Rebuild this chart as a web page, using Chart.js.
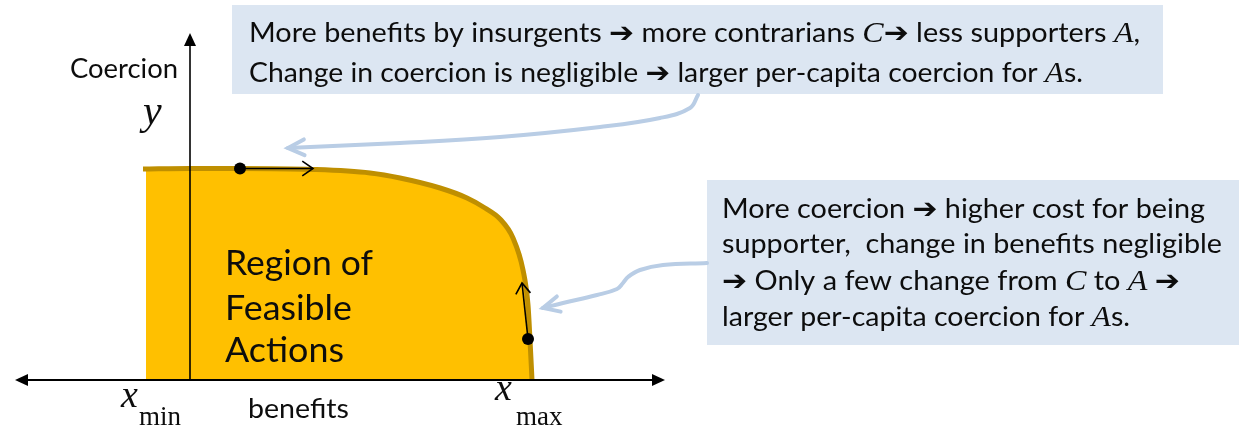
<!DOCTYPE html>
<html><head><meta charset="utf-8">
<style>html,body{margin:0;padding:0;background:#fff}canvas{display:block}</style>
<script src="https://cdn.jsdelivr.net/npm/chart.js@4/dist/chart.umd.min.js"></script>
</head><body>
<canvas id="c" width="1239" height="429"></canvas>
<script>
// ---- data (benefits x, coercion y; arbitrary units, origin at axes crossing) ----
const frontierX = [-9.4, 0, 10, 24.6, 36, 42, 50, 55.4, 59, 62, 64.6, 66.6, 67.6, 68, 68.4];
const frontierY = [42.2, 42.3, 42.3, 42.1, 41.4, 40.4, 38.4, 36.4, 34.4, 32.2, 28.4, 22, 15, 8, 0];
const regionX = [-8.8, 0, 10, 24.6, 36, 42, 50, 55.4, 59, 62, 64.6, 66.6, 67.6, 68, 68.4];
const regionY = [42.0, 42.1, 42.1, 41.9, 41.2, 40.2, 38.2, 36.2, 34.2, 32.0, 28.2, 21.8, 14.8, 7.8, 0.2];
const dotX = [10, 67.6];
const dotY = [42.3, 8.2];
const moveToX = [24.6, 66.4];
const moveToY = [42.3, 19.4];
const callout1X = [101.6, 100, 94, 82, 62, 42, 19.6];
const callout1Y = [57, 54.4, 52.4, 50.6, 48.6, 47.4, 46.4];
const callout2X = [103.4, 94.6, 90, 87.6, 86.6, 85.4, 81.4, 74.6, 70.6];
const callout2Y = [23.4, 23.0, 22.0, 20.6, 19.4, 18.2, 17.0, 15.4, 14.4];
const xAxisRange = [-35, 95];
const yAxisRange = [0, 69.4];

const XMIN = -38, XMAX = 209.8, YMIN = -9.8, YMAX = 76;

const pts = (xs, ys) => xs.map((x, i) => ({x, y: ys[i]}));

const S = "27px Lato, 'DejaVu Sans', sans-serif";
const SB = "34px Lato, 'DejaVu Sans', sans-serif";
const I = "italic 30px 'Liberation Serif', serif";
const R = "bold 28px 'DejaVu Sans', sans-serif";
const TXT = '#0d0d0d';

const boxes = [
  {x0: 8.4, x1: 194.6, y0: 75, y1: 57.2},
  {x0: 103.4, x1: 209.8, y0: 40, y1: 7}
];

const texts = [
  {x: -24, y: 60.4, w: 108, runs: [['Coercion', S]]},
  {x: -9.4, y: 51.2, runs: [['y', "italic 42px 'Liberation Serif', serif"]]},
  {x: 7, y: 21, w: 148, runs: [['Region of', SB]]},
  {x: 7, y: 12, w: 127, runs: [['Feasible', SB]]},
  {x: 7, y: 3.6, w: 119, runs: [['Actions', SB]]},
  {x: -13.8, y: -5.4, runs: [['x', "italic 38px 'Liberation Serif', serif"]]},
  {x: -10.2, y: -9, runs: [['min', "27px 'Liberation Serif', serif"]]},
  {x: 11.6, y: -7.6, w: 101, runs: [['benefits', S]]},
  {x: 61, y: -4, runs: [['x', "italic 38px 'Liberation Serif', serif"]]},
  {x: 65.2, y: -9, runs: [['max', "27px 'Liberation Serif', serif"]]},
  {x: 11.8, y: 67.6, w: 891, runs: [['More benefits by insurgents ', S], ['➔', R], [' more contrarians ', S], ['C', I], ['➔', R], [' less supporters ', S], ['A', I], [',', S]]},
  {x: 11.8, y: 59.6, w: 834, runs: [['Change in coercion is negligible ', S], ['➔', R], [' larger per-capita coercion for ', S], ['A', I], ['s.', S]]},
  {x: 106.4, y: 32.4, w: 483, runs: [['More coercion ', S], ['➔', R], [' higher cost for being', S]]},
  {x: 106.4, y: 25.4, w: 500, runs: [['supporter,  change in benefits negligible', S]]},
  {x: 106.4, y: 18, w: 458, runs: [['➔', R], [' Only a few change from ', S], ['C', I], [' to ', S], ['A', I], [' ', S], ['➔', R]]},
  {x: 106.4, y: 10.8, w: 408, runs: [['larger per-capita coercion for ', S], ['A', I], ['s.', S]]}
];

function drawRuns(ctx, t, px, py) {
  let total = 0;
  const ws = t.runs.map(([s, f]) => { ctx.font = f; const w = ctx.measureText(s).width; total += w; return w; });
  const sx = t.w ? t.w / total : 1;
  ctx.save();
  ctx.translate(px, py);
  ctx.scale(sx, 1);
  ctx.fillStyle = TXT;
  ctx.textBaseline = 'alphabetic';
  ctx.textAlign = 'left';
  let cx = 0;
  t.runs.forEach(([s, f], i) => { ctx.font = f; ctx.fillText(s, cx, 0); cx += ws[i]; });
  ctx.restore();
}

function openHead(ctx, tx, ty, fx, fy, len, ang) {
  const a = Math.atan2(ty - fy, tx - fx);
  ctx.beginPath();
  ctx.moveTo(tx - len * Math.cos(a - ang), ty - len * Math.sin(a - ang));
  ctx.lineTo(tx, ty);
  ctx.lineTo(tx - len * Math.cos(a + ang), ty - len * Math.sin(a + ang));
  ctx.stroke();
}
function filledHead(ctx, tx, ty, fx, fy, len, half) {
  const a = Math.atan2(ty - fy, tx - fx);
  const bx = tx - len * Math.cos(a), by = ty - len * Math.sin(a);
  ctx.beginPath();
  ctx.moveTo(tx, ty);
  ctx.lineTo(bx + half * Math.sin(a), by - half * Math.cos(a));
  ctx.lineTo(bx - half * Math.sin(a), by + half * Math.cos(a));
  ctx.closePath();
  ctx.fill();
}

const deco = {
  id: 'deco',
  beforeDatasetsDraw(chart) {
    const {ctx, scales: {x, y}} = chart;
    ctx.save();
    ctx.fillStyle = '#DCE6F2';
    boxes.forEach(b => {
      const X0 = x.getPixelForValue(b.x0), X1 = x.getPixelForValue(b.x1);
      const Y0 = y.getPixelForValue(b.y0), Y1 = y.getPixelForValue(b.y1);
      ctx.fillRect(X0, Y0, X1 - X0, Y1 - Y0);
    });
    ctx.restore();
  },
  afterDatasetsDraw(chart) {
    const {ctx, scales: {x, y}} = chart;
    ctx.save();
    ctx.strokeStyle = '#000'; ctx.fillStyle = '#000';
    const ax0 = x.getPixelForValue(xAxisRange[0]), ax1 = x.getPixelForValue(xAxisRange[1]);
    const ay = y.getPixelForValue(0);
    ctx.lineWidth = 2;
    ctx.beginPath(); ctx.moveTo(ax0 + 8, ay); ctx.lineTo(ax1 - 8, ay); ctx.stroke();
    filledHead(ctx, ax0, ay, ax1, ay, 13, 6);
    filledHead(ctx, ax1, ay, ax0, ay, 13, 6);
    const yx = x.getPixelForValue(0);
    const yt = y.getPixelForValue(yAxisRange[1]);
    ctx.lineWidth = 1.6;
    ctx.beginPath(); ctx.moveTo(yx, ay); ctx.lineTo(yx, yt + 8); ctx.stroke();
    filledHead(ctx, yx, yt, yx, ay, 13, 6);
    ctx.lineWidth = 1.6;
    dotX.forEach((dx, i) => {
      const fx = x.getPixelForValue(dx), fy = y.getPixelForValue(dotY[i]);
      const tx = x.getPixelForValue(moveToX[i]), ty = y.getPixelForValue(moveToY[i]);
      ctx.beginPath(); ctx.moveTo(fx, fy); ctx.lineTo(tx, ty); ctx.stroke();
      openHead(ctx, tx, ty, fx, fy, 13, 0.6);
    });
    ctx.strokeStyle = '#B9CDE5'; ctx.lineWidth = 4; ctx.lineCap = 'round';
    [[callout1X, callout1Y], [callout2X, callout2Y]].forEach(([cx, cy]) => {
      const n = cx.length;
      const tx = x.getPixelForValue(cx[n - 1]), ty = y.getPixelForValue(cy[n - 1]);
      const fx = x.getPixelForValue(cx[n - 2]), fy = y.getPixelForValue(cy[n - 2]);
      openHead(ctx, tx, ty, fx, fy, 18, 0.45);
    });
    texts.forEach(t => drawRuns(ctx, t, x.getPixelForValue(t.x), y.getPixelForValue(t.y)));
    ctx.restore();
  }
};

new Chart(document.getElementById('c'), {
  type: 'line',
  data: {
    datasets: [
      {data: pts(dotX, dotY), showLine: false, pointRadius: 6, pointBackgroundColor: '#000', pointBorderWidth: 0, order: 0},
      {data: pts(frontierX, frontierY), borderColor: '#BF8F00', borderWidth: 5, pointRadius: 0, cubicInterpolationMode: 'monotone', fill: false, order: 1},
      {data: pts(callout1X, callout1Y), borderColor: '#B9CDE5', borderWidth: 4, pointRadius: 0, tension: 0.4, fill: false, borderCapStyle: 'round', order: 2},
      {data: pts(callout2X, callout2Y), borderColor: '#B9CDE5', borderWidth: 4, pointRadius: 0, tension: 0.4, fill: false, borderCapStyle: 'round', order: 2},
      {data: pts(regionX, regionY), borderWidth: 0, borderColor: 'rgba(0,0,0,0)', backgroundColor: '#FFC000', pointRadius: 0, cubicInterpolationMode: 'monotone', fill: 'origin', order: 3}
    ]
  },
  options: {
    responsive: false,
    devicePixelRatio: 1,
    animation: false,
    layout: {padding: 0, autoPadding: false},
    scales: {
      x: {type: 'linear', min: XMIN, max: XMAX, display: false},
      y: {type: 'linear', min: YMIN, max: YMAX, display: false}
    },
    plugins: {legend: {display: false}, tooltip: {enabled: false}},
    events: []
  },
  plugins: [deco]
});
</script>
</body></html>
